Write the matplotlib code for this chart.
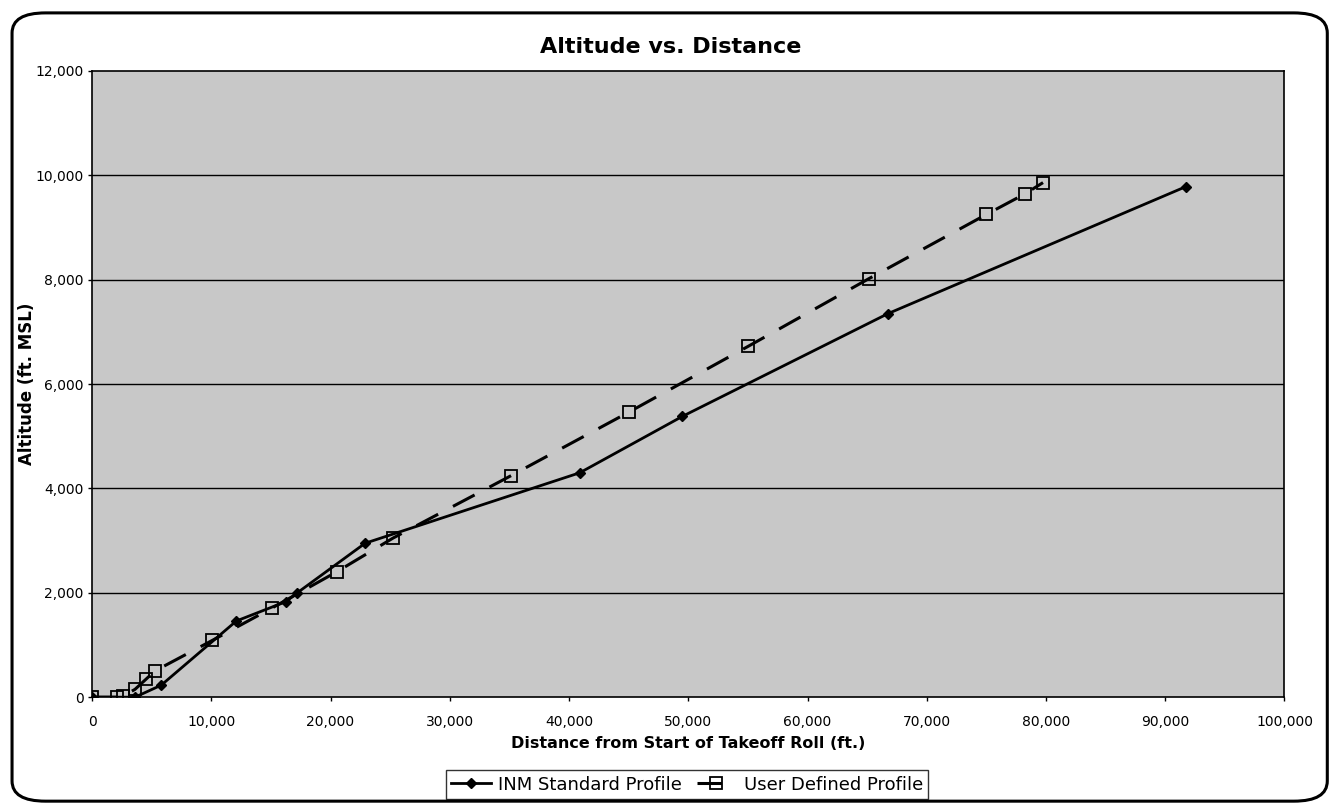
import matplotlib.pyplot as plt
from matplotlib.patches import FancyBboxPatch

plt.rcParams['font.family'] = ['DejaVu Sans']

# INM standard profile (ft)
inm_dist = [0, 3600, 5800, 12100, 16250, 17150, 22900, 40900, 49500, 66750, 91700]
inm_alt = [0, 0, 230, 1460, 1830, 1990, 2950, 4300, 5380, 7350, 9780]

# User defined profile (ft)
user_dist = [0, 2100, 2600, 3600, 4550, 5250, 10100, 15100, 20500, 25250,
             35100, 45000, 55000, 65150, 75000, 78200, 79750]
user_alt = [0, 0, 20, 150, 350, 500, 1090, 1710, 2400, 3050,
            4240, 5460, 6720, 8020, 9250, 9640, 9860]

x_ticks = list(range(0, 100001, 10000))
y_ticks = list(range(0, 12001, 2000))

fig = plt.figure(figsize=(13.38, 8.06), dpi=100)
ax = fig.add_axes([0.0688, 0.135, 0.8912, 0.777])

# rounded outer frame like the spreadsheet chart area
frame = FancyBboxPatch((0.009, 0.006), 0.983, 0.978, boxstyle="round,pad=0,rounding_size=0.025",
                       transform=fig.transFigure, facecolor="none", edgecolor="black",
                       linewidth=2.2, zorder=0)
fig.patches.append(frame)

ax.set_facecolor("#c8c8c8")
for y in y_ticks[1:-1]:
    ax.axhline(y, color="black", linewidth=1.0, zorder=1)

ax.plot(inm_dist, inm_alt, color="black", linewidth=2, marker="D", markersize=5,
        markerfacecolor="black", label="INM Standard Profile", zorder=3)
ax.plot(user_dist, user_alt, color="black", linewidth=2.2, dashes=(8, 5.5), marker="s",
        markersize=8, markerfacecolor="none", markeredgewidth=1.3,
        label="User Defined Profile", zorder=4)

ax.set_xlim(0, 100000)
ax.set_ylim(0, 12000)
ax.set_xticks(x_ticks)
ax.set_yticks(y_ticks)
ax.set_xticklabels([f"{v:,}" for v in x_ticks], fontsize=10)
ax.set_yticklabels([f"{v:,}" for v in y_ticks], fontsize=10)
ax.tick_params(axis="x", length=3, width=1, pad=10)
ax.tick_params(axis="y", length=3, width=1, pad=3)
for s in ax.spines.values():
    s.set_linewidth(1.2)

ax.set_title("Altitude vs. Distance", fontsize=16, fontweight="bold", pad=13, x=0.485)
ax.set_xlabel("Distance from Start of Takeoff Roll (ft.)", fontsize=11.5, fontweight="bold")
ax.set_ylabel("Altitude (ft. MSL)", fontsize=12, fontweight="bold")
ax.xaxis.set_label_coords(0.5, -0.062)
ax.yaxis.set_label_coords(-0.047, 0.5)

leg = ax.legend(loc="upper center", bbox_to_anchor=(0.499, -0.102), ncol=2, fontsize=13,
                frameon=True, fancybox=False, edgecolor="black", handlelength=2.2,
                columnspacing=0.8, handletextpad=0.4, borderpad=0.3)
leg.get_frame().set_linewidth(1.0)

fig.savefig("out.png", dpi=100)
